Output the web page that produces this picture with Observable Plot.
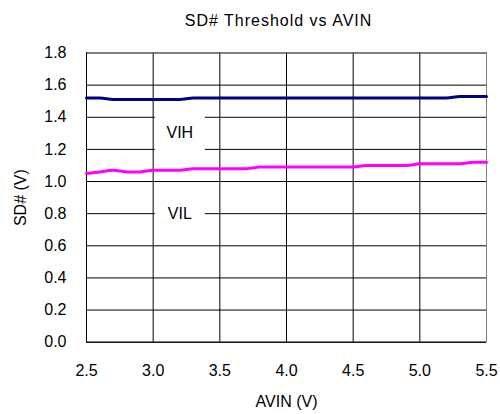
<!DOCTYPE html>
<html><head><meta charset="utf-8">
<script src="https://cdn.jsdelivr.net/npm/d3@7"></script>
<script src="https://cdn.jsdelivr.net/npm/@observablehq/plot@0.6"></script>
<style>
body{margin:0;background:#fff;font-family:"Liberation Sans",Arial,sans-serif;}
#title{width:500px;height:38px;box-sizing:border-box;padding-top:12px;padding-left:57px;text-align:center;font-size:16px;letter-spacing:1px;line-height:normal;color:#000;}
</style></head><body>
<div id="title">SD# Threshold vs AVIN</div>
<div id="chart"></div>
<script>
const avin = [2.5,2.6,2.7,2.8,2.9,3.0,3.1,3.2,3.3,3.4,3.5,3.6,3.7,3.8,3.9,4.0,4.1,4.2,4.3,4.4,4.5,4.6,4.7,4.8,4.9,5.0,5.1,5.2,5.3,5.4,5.5];
const vih = [1.52,1.52,1.51,1.51,1.51,1.51,1.51,1.51,1.52,1.52,1.52,1.52,1.52,1.52,1.52,1.52,1.52,1.52,1.52,1.52,1.52,1.52,1.52,1.52,1.52,1.52,1.52,1.52,1.53,1.53,1.53];
const vil = [1.05,1.06,1.07,1.06,1.06,1.07,1.07,1.07,1.08,1.08,1.08,1.08,1.08,1.09,1.09,1.09,1.09,1.09,1.09,1.09,1.09,1.10,1.10,1.10,1.10,1.11,1.11,1.11,1.11,1.12,1.12];
const xTicks = [2.5,3.0,3.5,4.0,4.5,5.0,5.5];
const yTicks = [0,0.2,0.4,0.6,0.8,1.0,1.2,1.4,1.6,1.8];
const labelText = ["VIH","VIL"];
const labelX = [3.2,3.2];
const labelY = [1.3,0.8];

const vihData = avin.map((x,i)=>({x, y: vih[i]}));
const vilData = avin.map((x,i)=>({x, y: vil[i]}));
const labelData = labelText.map((t,i)=>({t, x: labelX[i], y: labelY[i]}));
const boxSymbol = {draw(ctx){ ctx.rect(-25,-18,50,36); }};
const fmt = d3.format(".1f");
const xMin = xTicks[0], xMax = xTicks[xTicks.length-1];
const yMin = yTicks[0], yMax = yTicks[yTicks.length-1];

const chart = Plot.plot({
  width: 500,
  height: 376,
  marginTop: 14.5,
  marginBottom: 72.3,
  marginLeft: 86,
  marginRight: 14,
  style: {fontSize: "16px", fontFamily: "'Liberation Sans', Arial, sans-serif", background: "white", color: "black", overflow: "visible"},
  x: {domain: [xMin, xMax], label: null},
  y: {domain: [yMin, yMax], label: null},
  marks: [
    Plot.gridX(xTicks, {stroke: "black", strokeOpacity: 1}),
    Plot.gridY(yTicks, {stroke: "black", strokeOpacity: 1}),
    Plot.dot(labelData, {x: "x", y: "y", symbol: boxSymbol, fill: "white", stroke: null}),
    Plot.ruleY([yMax], {stroke: "#808080"}),
    Plot.ruleX([xMax], {stroke: "#808080"}),
    Plot.ruleX([xMin], {stroke: "black"}),
    Plot.ruleY([yMin], {stroke: "black"}),
    Plot.line(vilData, {x: "x", y: "y", stroke: "#ff00ff", strokeWidth: 3, curve: "monotone-x"}),
    Plot.line(vihData, {x: "x", y: "y", stroke: "#000080", strokeWidth: 3, curve: "monotone-x"}),
    Plot.text(labelData, {x: "x", y: "y", text: "t", fill: "black"}),
    Plot.axisX(xTicks, {tickSize: 0, tickPadding: 22, tickFormat: fmt, label: null}),
    Plot.axisY(yTicks, {tickSize: 0, tickPadding: 20, tickFormat: fmt, label: null}),
    Plot.text(["AVIN (V)"], {frameAnchor: "bottom", lineAnchor: "middle", textAnchor: "middle", dy: 59.6, text: d => d, fill: "black"}),
    Plot.text(["SD# (V)"], {frameAnchor: "left", lineAnchor: "middle", textAnchor: "middle", dx: -66, rotate: -90, text: d => d, fill: "black"})
  ]
});
document.getElementById("chart").appendChild(chart);
</script>
</body></html>
